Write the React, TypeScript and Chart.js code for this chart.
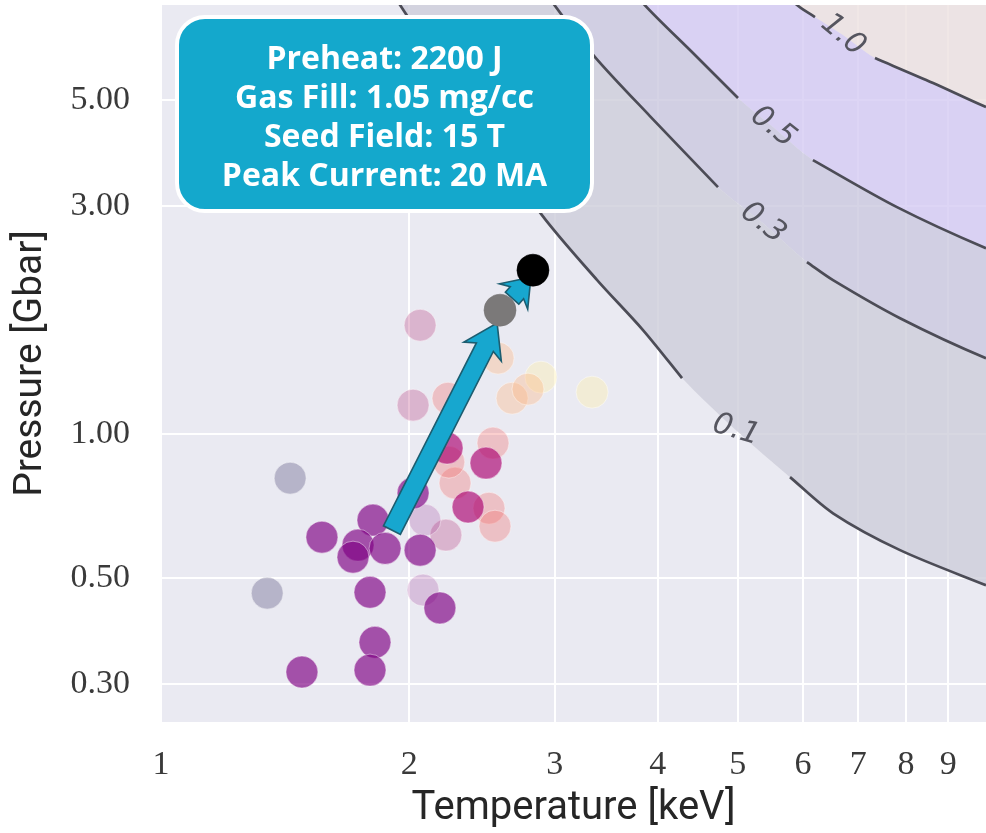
import React, { useEffect, useRef } from "react";
import { Chart, registerables } from "chart.js";

Chart.register(...registerables);

// ---------- axes ----------
const tempRange = [1, 10];
const pressureRange = [0.25, 7.9];
const tempTicks = [1, 2, 3, 4, 5, 6, 7, 8, 9];
const pressureTicks = [0.3, 0.5, 1, 3, 5];
const pressureTickLabels = ["0.30", "0.50", "1.00", "3.00", "5.00"];

// ---------- design iterations: temperature [keV], pressure [Gbar] ----------
const deepT = [1.567, 1.807, 1.733, 1.709, 1.869, 2.061, 1.792, 2.178, 1.817, 1.792, 1.482, 2.021];
const deepP = [0.609, 0.661, 0.586, 0.553, 0.577, 0.572, 0.467, 0.433, 0.367, 0.321, 0.318, 0.753];
const magentaT = [2.222, 2.477, 2.356];
const magentaP = [0.935, 0.87, 0.704];
const lavenderT = [2.089, 2.078];
const lavenderP = [0.661, 0.472];
const pinkT = [2.061, 2.021, 2.215];
const pinkP = [1.69, 1.15, 0.615];
const coralT = [2.228, 2.272, 2.233, 2.498, 2.54, 2.526];
const coralP = [1.189, 0.79, 0.874, 0.7, 0.642, 0.958];
const peachT = [2.562, 2.664, 2.785];
const peachP = [1.442, 1.189, 1.242];
const paleT = [2.888, 3.331];
const paleP = [1.316, 1.224];
const rejectedT = [1.434, 1.345];
const rejectedP = [0.809, 0.465];
const bestT = [2.576, 2.824];
const bestP = [1.817, 2.203];

// ---------- contour levels (the labelled point sits in the gap of each line) ----------
const contourLabels = ["0.1", "0.3", "0.5", "1.0"];
const contour01T = [1.895, 1.949, 2.369, 2.896, 3.378, 3.839, 4.281, 4.977, 5.787, 6.525, 7.867, 10.0, 10.5];
const contour01P = [8.57, 7.9, 4.72, 2.872, 2.1, 1.651, 1.31, 1.019, 0.813, 0.683, 0.572, 0.483, 0.468];
const contour03T = [2.921, 2.987, 3.358, 3.914, 4.733, 5.366, 6.067, 6.525, 7.867, 10.0, 10.5];
const contour03P = [8.57, 7.97, 6.148, 4.627, 3.287, 2.763, 2.29, 2.1, 1.748, 1.442, 1.42];
const contour05T = [3.765, 3.839, 4.414, 5.005, 5.518, 6.169, 7.8, 10.0, 10.5];
const contour05P = [8.49, 7.97, 6.268, 5.046, 4.388, 3.743, 2.985, 2.449, 2.4];
const contour10T = [5.787, 5.868, 6.204, 6.708, 7.336, 8.627, 10.0, 10.5];
const contour10P = [8.49, 7.97, 7.455, 6.834, 6.117, 5.425, 4.832, 4.7];
const contourLabelIndex = [7, 5, 4, 3];
const contourLabelAngle = [17, 38, 38, 40];

// ---------- arrows: [tail, tip] ----------
const arrowMainT = [1.905, 2.555];
const arrowMainP = [0.63, 1.707];
const arrowLastT = [2.664, 2.808];
const arrowLastP = [1.925, 2.13];

// ---------- annotation ----------
const designLines = ["Preheat: 2200 J", "Gas Fill: 1.05 mg/cc", "Seed Field: 15 T", "Peak Current: 20 MA"];

const pts = (t: number[], p: number[]) => t.map((x, i) => ({ x, y: p[i] }));

const contours = [
  pts(contour01T, contour01P),
  pts(contour03T, contour03P),
  pts(contour05T, contour05P),
  pts(contour10T, contour10P),
];

const bandColors = [
  "rgba(205,205,218,0.8)",
  "rgba(203,200,222,0.8)",
  "rgba(212,202,243,0.8)",
  "rgba(236,225,224,0.8)",
];

function bandShape(i: number) {
  const lower = contours[i];
  if (i < contours.length - 1) return [...lower, ...contours[i + 1].slice().reverse()];
  return [...lower, { x: 10.5, y: 9.5 }, { x: 5.5, y: 9.5 }];
}

const fillSets = contours.map((_, i) => ({
  type: "line" as const,
  data: bandShape(i),
  fill: "shape",
  backgroundColor: bandColors[i],
  borderWidth: 0,
  pointRadius: 0,
  tension: 0.3,
  order: 30,
}));

const lineSets = contours.map((c, i) => ({
  type: "line" as const,
  data: c.map((p, j) => (j === contourLabelIndex[i] ? { x: p.x, y: null } : p)),
  fill: false,
  borderColor: "#4c4c56",
  borderWidth: 2.7,
  pointRadius: 0,
  tension: 0.3,
  spanGaps: false,
  order: 20,
}));

function pointSet(t: number[], p: number[], color: string, rim: string, order = 10) {
  return {
    type: "scatter" as const,
    data: pts(t, p),
    backgroundColor: color,
    borderColor: rim,
    borderWidth: 1,
    pointRadius: 16,
    order,
  };
}

const rim = "rgba(255,255,255,0.45)";
const scatterSets = [
  pointSet(deepT, deepP, "rgba(126,0,130,0.66)", rim),
  pointSet(magentaT, magentaP, "rgba(170,0,110,0.65)", rim),
  pointSet(lavenderT, lavenderP, "rgba(150,40,140,0.22)", rim),
  pointSet(pinkT, pinkP, "rgba(183,55,121,0.3)", rim),
  pointSet(coralT, coralP, "rgba(241,96,93,0.3)", rim),
  pointSet(peachT, peachP, "rgba(254,175,119,0.33)", rim),
  pointSet(paleT, paleP, "rgba(252,240,180,0.45)", rim),
  pointSet(rejectedT, rejectedP, "rgba(130,125,160,0.5)", rim),
];
const bestSet = {
  type: "scatter" as const,
  data: pts(bestT, bestP),
  backgroundColor: ["#7b7979", "#000000"],
  borderColor: ["rgba(120,118,118,0.6)", "rgba(0,0,0,0.6)"],
  borderWidth: 1,
  pointRadius: 16,
  order: 0,
};

const datasets: any[] = [...fillSets, ...lineSets, ...scatterSets, bestSet];
const BEST_INDEX = datasets.length - 1;

function drawArrow(ctx: CanvasRenderingContext2D, x0: number, y0: number, x1: number, y1: number,
  shaftHalf: number, headHalf: number, headLen: number) {
  const L = Math.hypot(x1 - x0, y1 - y0);
  const ux = (x1 - x0) / L, uy = (y1 - y0) / L;
  const nx = -uy, ny = ux;
  const bx = x1 - ux * headLen, by = y1 - uy * headLen;
  const sweep = 5;
  const poly = [
    [x0 + nx * shaftHalf, y0 + ny * shaftHalf],
    [bx + nx * shaftHalf, by + ny * shaftHalf],
    [bx - ux * sweep + nx * headHalf, by - uy * sweep + ny * headHalf],
    [x1, y1],
    [bx - ux * sweep - nx * headHalf, by - uy * sweep - ny * headHalf],
    [bx - nx * shaftHalf, by - ny * shaftHalf],
    [x0 - nx * shaftHalf, y0 - ny * shaftHalf],
  ];
  ctx.beginPath();
  poly.forEach(([x, y], i) => (i ? ctx.lineTo(x, y) : ctx.moveTo(x, y)));
  ctx.closePath();
  ctx.fillStyle = "#17a7cf";
  ctx.fill();
  ctx.lineWidth = 1.6;
  ctx.strokeStyle = "#1c5d70";
  ctx.lineJoin = "miter";
  ctx.stroke();
}

function roundRectPath(ctx: CanvasRenderingContext2D, x: number, y: number, w: number, h: number, r: number) {
  ctx.beginPath();
  ctx.moveTo(x + r, y);
  ctx.arcTo(x + w, y, x + w, y + h, r);
  ctx.arcTo(x + w, y + h, x, y + h, r);
  ctx.arcTo(x, y + h, x, y, r);
  ctx.arcTo(x, y, x + w, y, r);
  ctx.closePath();
}

const decorations = {
  id: "decorations",
  beforeDraw(chart: any) {
    const { ctx, chartArea: a } = chart;
    ctx.save();
    ctx.fillStyle = "#eaeaf2";
    ctx.fillRect(a.left, a.top, a.right - a.left, a.bottom - a.top);
    ctx.restore();
  },
  beforeDatasetDraw(chart: any, args: any) {
    if (args.index !== BEST_INDEX) return;
    const { ctx, scales } = chart;
    const X = (v: number) => scales.x.getPixelForValue(v);
    const Y = (v: number) => scales.y.getPixelForValue(v);
    ctx.save();
    drawArrow(ctx, X(arrowMainT[0]), Y(arrowMainP[0]), X(arrowMainT[1]), Y(arrowMainP[1]), 9.5, 21, 27);
    drawArrow(ctx, X(arrowLastT[0]), Y(arrowLastP[0]), X(arrowLastT[1]), Y(arrowLastP[1]), 9, 19, 21);
    ctx.restore();
  },
  afterDatasetsDraw(chart: any) {
    const { ctx, scales, chartArea: a } = chart;
    ctx.save();
    // contour level labels
    ctx.font = 'italic 30px "DejaVu Sans"';
    ctx.fillStyle = "#55555f";
    ctx.textAlign = "center";
    ctx.textBaseline = "middle";
    contours.forEach((c, i) => {
      const p = c[contourLabelIndex[i]];
      ctx.save();
      ctx.translate(scales.x.getPixelForValue(p.x), scales.y.getPixelForValue(p.y));
      ctx.rotate((contourLabelAngle[i] * Math.PI) / 180);
      ctx.fillText(contourLabels[i], 0, 0);
      ctx.restore();
    });
    // design parameter box
    const bx = a.left + 16, by = a.top + 12, bw = 415, bh = 194;
    roundRectPath(ctx, bx, by, bw, bh, 28);
    ctx.fillStyle = "#14a8cc";
    ctx.fill();
    ctx.lineWidth = 4;
    ctx.strokeStyle = "#ffffff";
    ctx.stroke();
    ctx.fillStyle = "#ffffff";
    ctx.font = 'bold 32px "Open Sans"';
    ctx.textAlign = "center";
    ctx.textBaseline = "alphabetic";
    designLines.forEach((s, i) => ctx.fillText(s, bx + bw / 2, by + 52 + i * 39));
    ctx.restore();
  },
};

export default function App() {
  const ref = useRef<HTMLCanvasElement>(null);
  useEffect(() => {
    document.body.style.margin = "0";
    const chart = new Chart(ref.current as HTMLCanvasElement, {
      type: "line",
      data: { datasets },
      plugins: [decorations],
      options: {
        responsive: false,
        animation: false,
        devicePixelRatio: 1,
        events: [],
        layout: { autoPadding: false, padding: { top: 5, right: 0, left: 0, bottom: 0 } },
        elements: { line: { capBezierPoints: false } },
        plugins: { legend: { display: false }, tooltip: { enabled: false } },
        scales: {
          x: {
            type: "logarithmic",
            min: tempRange[0],
            max: tempRange[1],
            afterFit: (s: any) => {
              s.height = 111;
              s.paddingLeft = 0;
              s.paddingRight = 0;
            },
            afterBuildTicks: (s: any) => { s.ticks = tempTicks.map((v) => ({ value: v })); },
            grid: { color: "#ffffff", lineWidth: 2, drawTicks: false },
            border: { display: false },
            ticks: {
              autoSkip: false,
              maxRotation: 0,
              padding: 23,
              color: "#3a3a3a",
              font: { family: '"Liberation Serif"', size: 34 },
              callback: (v: any) => String(v),
            },
            title: {
              display: true,
              text: "Temperature [keV]",
              color: "#262626",
              font: { family: "Roboto", size: 40 },
              padding: { top: 0, bottom: 0 },
            },
          },
          y: {
            type: "logarithmic",
            min: pressureRange[0],
            max: pressureRange[1],
            afterFit: (s: any) => {
              s.width = 161;
              s.paddingTop = 0;
              s.paddingBottom = 0;
            },
            afterBuildTicks: (s: any) => { s.ticks = pressureTicks.map((v) => ({ value: v })); },
            grid: { color: "#ffffff", lineWidth: 2, drawTicks: false },
            border: { display: false },
            ticks: {
              autoSkip: false,
              padding: 31,
              color: "#3a3a3a",
              font: { family: '"Liberation Serif"', size: 34 },
              callback: (v: any) => {
                const k = pressureTicks.indexOf(Number(v));
                return k >= 0 ? pressureTickLabels[k] : "";
              },
            },
            title: {
              display: true,
              text: "Pressure [Gbar]",
              color: "#262626",
              font: { family: "Roboto", size: 39 },
              padding: { top: 8, bottom: 0 },
            },
          },
        },
      } as any,
    });
    return () => chart.destroy();
  }, []);
  return (
    <div style={{ width: 986, height: 833, background: "#ffffff" }}>
      <canvas ref={ref} width={986} height={833} style={{ display: "block" }} />
    </div>
  );
}
